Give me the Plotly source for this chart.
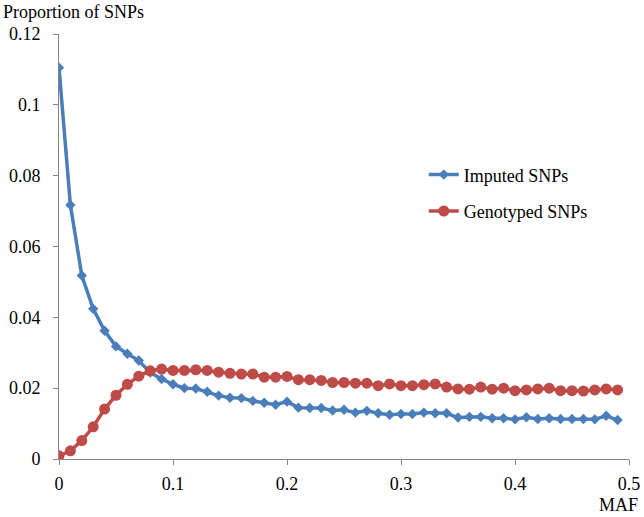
import plotly.graph_objects as go

maf = [round(i * 0.01, 2) for i in range(50)]

imputed = [0.1105, 0.0717, 0.0518, 0.0424, 0.0362, 0.0318, 0.0297, 0.0278, 0.0244, 0.0226,
           0.0211, 0.0200, 0.0199, 0.0190, 0.0179, 0.0173, 0.0172, 0.0164, 0.0159, 0.0153,
           0.0162, 0.0145, 0.0144, 0.0144, 0.0137, 0.0139, 0.0131, 0.0136, 0.0129, 0.0125,
           0.0127, 0.0127, 0.0131, 0.0129, 0.0129, 0.0117, 0.0119, 0.0119, 0.0115, 0.0115,
           0.0112, 0.0118, 0.0113, 0.0115, 0.0113, 0.0113, 0.0113, 0.0112, 0.0122, 0.0110]

genotyped = [0.0009, 0.0023, 0.0052, 0.0091, 0.0141, 0.0180, 0.0211, 0.0234, 0.0249, 0.0254,
             0.0250, 0.0250, 0.0252, 0.0250, 0.0245, 0.0242, 0.0240, 0.0240, 0.0231, 0.0231,
             0.0233, 0.0224, 0.0224, 0.0222, 0.0216, 0.0216, 0.0214, 0.0214, 0.0207, 0.0212,
             0.0207, 0.0207, 0.0210, 0.0212, 0.0203, 0.0198, 0.0197, 0.0203, 0.0197, 0.0200,
             0.0193, 0.0195, 0.0198, 0.0200, 0.0193, 0.0193, 0.0192, 0.0195, 0.0198, 0.0195]

x_ticks = [0, 0.1, 0.2, 0.3, 0.4, 0.5]
x_tick_labels = ["0", "0.1", "0.2", "0.3", "0.4", "0.5"]
y_ticks = [0, 0.02, 0.04, 0.06, 0.08, 0.1, 0.12]
y_tick_labels = ["0", "0.02", "0.04", "0.06", "0.08", "0.1", "0.12"]

BLUE = "#4A7EBB"
RED = "#BE4B48"
AXIS = "#868686"
FONT = "Liberation Serif"

fig = go.Figure()
fig.add_trace(go.Scatter(
    x=maf, y=imputed, mode="lines+markers", name="Imputed SNPs",
    legendgroup="a",
    line=dict(color=BLUE, width=3.5),
    marker=dict(symbol="diamond", size=8, color=BLUE),
))
fig.add_trace(go.Scatter(
    x=maf, y=genotyped, mode="lines+markers", name="Genotyped SNPs",
    legendgroup="b",
    line=dict(color=RED, width=3.5),
    marker=dict(symbol="circle", size=11, color=RED),
))

fig.update_layout(
    width=644, height=517,
    autosize=False,
    margin=dict(l=59, r=15, t=34, b=58, autoexpand=False),
    paper_bgcolor="white", plot_bgcolor="white",
    font=dict(family=FONT, size=18, color="#000000"),
    showlegend=True,
    legend=dict(
        x=0.64, y=0.712, xanchor="left", yanchor="top",
        font=dict(family=FONT, size=18, color="#000000"),
        bgcolor="rgba(0,0,0,0)",
        tracegroupgap=10,
        traceorder="grouped",
    ),
    xaxis=dict(
        range=[0, 0.5], tickvals=x_ticks, ticktext=x_tick_labels,
        showgrid=False, zeroline=False, automargin=False,
        showline=True, linecolor=AXIS, linewidth=1,
        ticks="outside", ticklen=5, tickcolor=AXIS, tickwidth=1,
        tickfont=dict(family=FONT, size=18, color="#000000"),
        ticklabelstandoff=3,
    ),
    yaxis=dict(
        range=[0, 0.12], tickvals=y_ticks, ticktext=y_tick_labels,
        showgrid=False, zeroline=False, automargin=False,
        showline=True, linecolor=AXIS, linewidth=1,
        ticks="outside", ticklen=5, tickcolor=AXIS, tickwidth=1,
        tickfont=dict(family=FONT, size=18, color="#000000"),
        ticklabelstandoff=9,
    ),
    annotations=[
        dict(text="Proportion of SNPs", xref="paper", yref="paper",
             x=0, y=1, xanchor="left", yanchor="middle",
             xshift=-58, yshift=22, showarrow=False,
             font=dict(family=FONT, size=18, color="#000000")),
        dict(text="MAF", xref="paper", yref="paper",
             x=1, y=0, xanchor="right", yanchor="middle",
             xshift=11, yshift=-46, showarrow=False,
             font=dict(family=FONT, size=18, color="#000000")),
    ],
)

fig.write_html("out.html",
               config={"displayModeBar": False},
               post_script="document.body.style.margin='0px';document.body.style.overflow='hidden';")
